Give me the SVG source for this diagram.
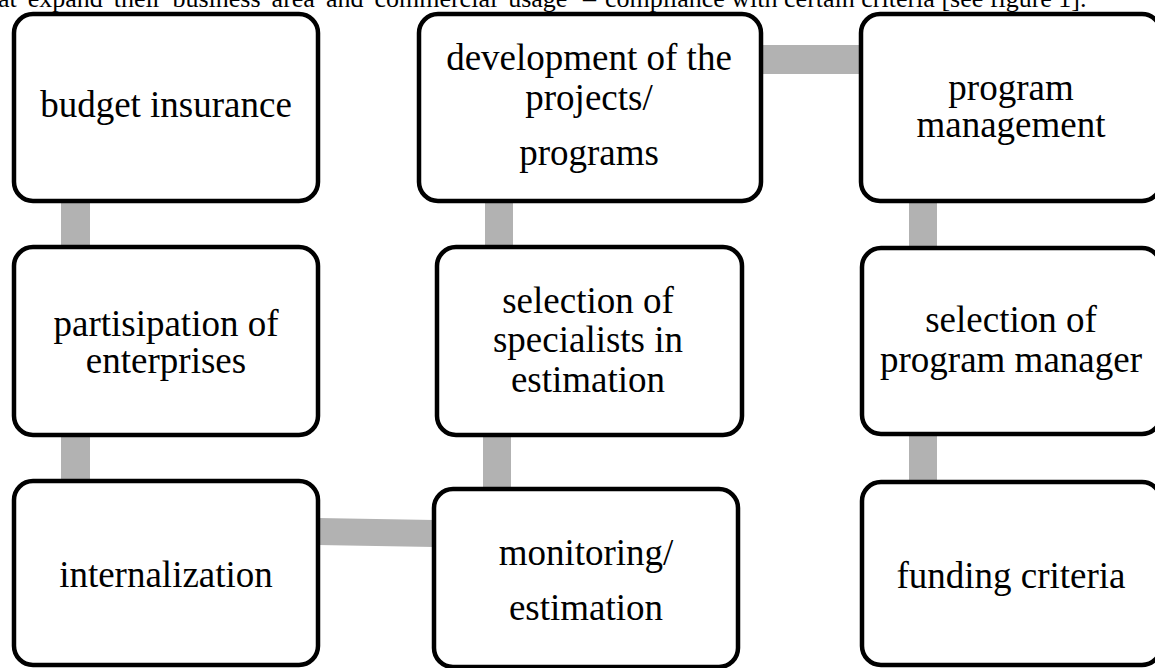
<svg xmlns="http://www.w3.org/2000/svg" width="1155" height="668" viewBox="0 0 1155 668">
<style>
.box{fill:#fff;stroke:#000;stroke-width:4.5}
.con{fill:#b2b2b2;stroke:none}
.t{font-family:"Liberation Serif","Times New Roman",serif;font-size:37px;fill:#000;text-anchor:middle}
.hdr{font-family:"Liberation Serif","Times New Roman",serif;font-size:26px;fill:#000}
</style>
<rect width="1155" height="668" fill="#fff"/>
<text class="hdr" x="-2" y="7" word-spacing="4.5">at expand their business area and commercial usage</text>
<text class="hdr" x="583" y="7">–</text>
<text class="hdr" x="605" y="7">compliance with certain criteria [see figure 1].</text>
<g id="connectors">
<rect class="con" x="61" y="200" width="29" height="48"/>
<rect class="con" x="61" y="434" width="29" height="48"/>
<rect class="con" x="485" y="200" width="28" height="48"/>
<rect class="con" x="483" y="434" width="28" height="56"/>
<polygon class="con" points="318,518 434,520 434,547 318,545"/>
<rect class="con" x="760" y="45" width="102" height="29"/>
<rect class="con" x="909" y="200" width="28" height="48"/>
<rect class="con" x="909" y="433" width="28" height="50"/>
</g>
<g id="budget-insurance">
<rect class="box" x="14" y="14" width="304" height="187" rx="19"/>
<text class="t" x="166" y="117">budget insurance</text>
</g>
<g id="partisipation">
<rect class="box" x="14" y="247" width="304" height="188" rx="19"/>
<text class="t" x="166" y="336">partisipation of</text>
<text class="t" x="166" y="373">enterprises</text>
</g>
<g id="internalization">
<rect class="box" x="14" y="481" width="304" height="184" rx="19"/>
<text class="t" x="166" y="587">internalization</text>
</g>
<g id="development">
<rect class="box" x="419" y="14" width="342" height="187" rx="19"/>
<text class="t" x="589" y="70">development of the</text>
<text class="t" x="589" y="110">projects/</text>
<text class="t" x="589" y="165">programs</text>
</g>
<g id="selection-specialists">
<rect class="box" x="437" y="247" width="305" height="188" rx="19"/>
<text class="t" x="588" y="313">selection of</text>
<text class="t" x="588" y="352">specialists in</text>
<text class="t" x="588" y="392">estimation</text>
</g>
<g id="monitoring">
<rect class="box" x="434" y="489" width="304" height="178" rx="19"/>
<text class="t" x="586" y="565">monitoring/</text>
<text class="t" x="586" y="620">estimation</text>
</g>
<g id="program-management">
<rect class="box" x="861" y="14" width="300" height="187" rx="19"/>
<text class="t" x="1011" y="100">program</text>
<text class="t" x="1011" y="137">management</text>
</g>
<g id="selection-manager">
<rect class="box" x="862" y="248" width="299" height="186" rx="19"/>
<text class="t" x="1011" y="332">selection of</text>
<text class="t" x="1011" y="372">program manager</text>
</g>
<g id="funding-criteria">
<rect class="box" x="862" y="482" width="299" height="183" rx="19"/>
<text class="t" x="1011" y="588">funding criteria</text>
</g>
</svg>
